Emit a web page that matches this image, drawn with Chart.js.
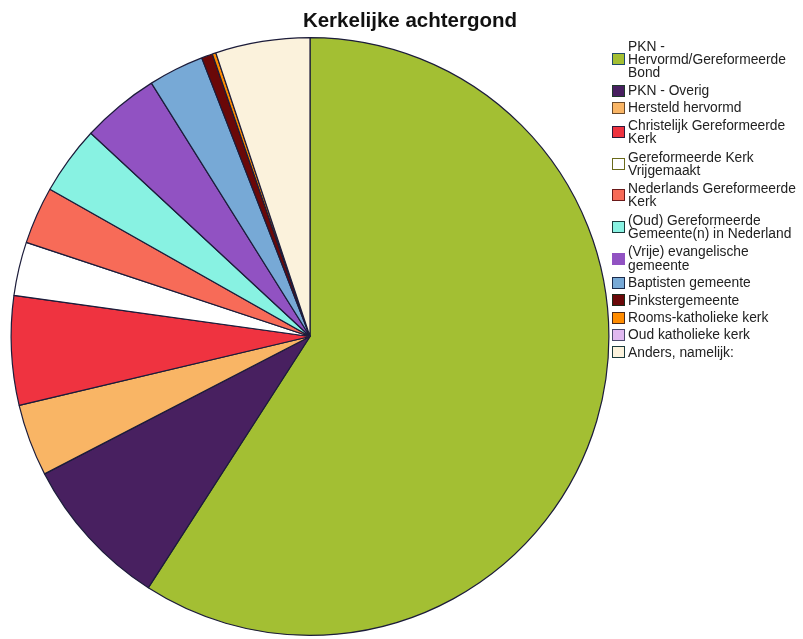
<!DOCTYPE html>
<html>
<head>
<meta charset="utf-8">
<script src="https://cdn.jsdelivr.net/npm/chart.js@4"></script>
<style>
  html, body { margin: 0; padding: 0; background: #fff; }
  #wrap { position: relative; width: 803px; height: 639px; overflow: hidden; }
  #c { position: absolute; left: 0; top: 0; }
  #title { position: absolute; left: 0; width: 820px; top: 10px; text-align: center;
           font-family: "Liberation Sans", Arial, sans-serif; font-weight: bold; font-size: 20.5px; line-height: 20px; color: #111; }
  #legend { position: absolute; left: 612px; top: 39px; width: 191px;
            font-family: "Liberation Sans", Arial, sans-serif; font-size: 13.8px; line-height: 13.3px; color: #222; white-space: nowrap; }
  .item { display: flex; align-items: center; margin-bottom: 4px; }
  .item.multi { padding: 0.5px 0; }
  .box { width: 11px; height: 10px; border: 1.5px solid #1f2a3a; flex: 0 0 auto; margin-right: 3px; }
</style>
</head>
<body>
<div id="wrap">
  <canvas id="c" width="803" height="639"></canvas>
  <div id="title"></div>
  <div id="legend"></div>
</div>
<script>
const chartTitle = "Kerkelijke achtergond";
const categories = [
  ["PKN -", "Hervormd/Gereformeerde", "Bond"],
  ["PKN - Overig"],
  ["Hersteld hervormd"],
  ["Christelijk Gereformeerde", "Kerk"],
  ["Gereformeerde Kerk", "Vrijgemaakt"],
  ["Nederlands Gereformeerde", "Kerk"],
  ["(Oud) Gereformeerde", "Gemeente(n) in Nederland"],
  ["(Vrije) evangelische", "gemeente"],
  ["Baptisten gemeente"],
  ["Pinkstergemeente"],
  ["Rooms-katholieke kerk"],
  ["Oud katholieke kerk"],
  ["Anders, namelijk:"]
];
const values = [59.1, 8.3, 3.9, 5.9, 2.9, 3.1, 3.7, 4.2, 3.0, 0.6, 0.2, 0.0, 5.1];
const colors = ["#a3bf33", "#482060", "#f9b565", "#ef3340", "#ffffff", "#f76b58", "#88f2e2",
                "#9152c2", "#77a9d6", "#6a0808", "#ff8c00", "#e0b8f0", "#fbf2dc"];
const boxBorders = ["#1f4a6a", "#1f3a2a", "#6a4a2a", "#2a1a3a", "#6a6a1a", "#6a1a1a", "#1a3a3a",
                    "#9152c2", "#1a2a4a", "#1a2a1a", "#4a2a1a", "#4a4a6a", "#1a3a3a"];

document.getElementById('title').textContent = chartTitle;
const leg = document.getElementById('legend');
categories.forEach((lines, i) => {
  const it = document.createElement('div');
  it.className = lines.length > 1 ? 'item multi' : 'item';
  const b = document.createElement('div');
  b.className = 'box';
  b.style.background = colors[i];
  b.style.borderColor = boxBorders[i];
  const t = document.createElement('div');
  lines.forEach((s, k) => {
    if (k) t.appendChild(document.createElement('br'));
    t.appendChild(document.createTextNode(s));
  });
  it.appendChild(b); it.appendChild(t);
  leg.appendChild(it);
});

new Chart(document.getElementById('c'), {
  type: 'pie',
  data: {
    labels: categories.map(l => l.join(' ')),
    datasets: [{
      data: values,
      backgroundColor: colors,
      borderColor: "#1c1c3a",
      borderWidth: 1.2
    }]
  },
  options: {
    responsive: false,
    animation: false,
    layout: { padding: { left: 10, right: 193, top: 37, bottom: 3 } },
    plugins: {
      legend: { display: false },
      title: { display: false },
      tooltip: { enabled: false }
    }
  }
});
</script>
</body>
</html>
